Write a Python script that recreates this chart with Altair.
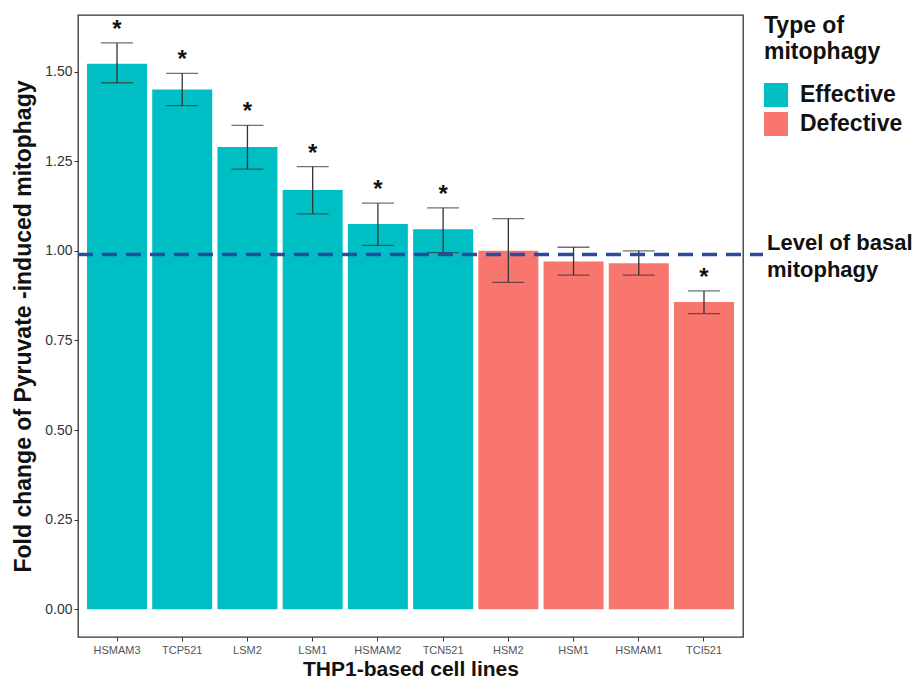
import altair as alt
import pandas as pd

cell_lines = ["HSMAM3", "TCP521", "LSM2", "LSM1", "HSMAM2", "TCN521", "HSM2", "HSM1", "HSMAM1", "TCI521"]
fold_change = [1.522, 1.45, 1.29, 1.17, 1.075, 1.06, 1.00, 0.97, 0.965, 0.857]
err_low = [1.469, 1.405, 1.228, 1.103, 1.015, 0.995, 0.912, 0.932, 0.932, 0.825]
err_high = [1.58, 1.495, 1.35, 1.235, 1.133, 1.12, 1.09, 1.01, 1.0, 0.888]
mito_type = ["Effective"] * 6 + ["Defective"] * 4
significant = [True, True, True, True, True, True, False, False, False, True]
basal_level = [0.99]
basal_label = ["Level of basal", "mitophagy"]

df = pd.DataFrame({
    "cell": cell_lines,
    "fc": fold_change,
    "lo": err_low,
    "hi": err_high,
    "type": mito_type,
    "star": ["*" if s else "" for s in significant],
})
basal_df = pd.DataFrame({"y": basal_level, "label": [basal_label]})

W, H = 665, 622
FONT = "Liberation Sans"

x_enc = alt.X("cell:N", sort=cell_lines,
              scale=alt.Scale(paddingInner=0.08, paddingOuter=0.138),
              axis=alt.Axis(title="THP1-based cell lines", labelAngle=0, labelFontSize=11,
                            labelColor="#555555", titleFontSize=21, titleFontWeight="bold",
                            titleFont=FONT, labelFont=FONT, titleColor="#111111",
                            tickColor="#333333", tickSize=4, domain=False, labelPadding=3,
                            titlePadding=3))
y_scale = alt.Scale(domain=[-0.0776, 1.658], nice=False, zero=False)

bars = alt.Chart(df).mark_bar(clip=True).encode(
    x=x_enc,
    y=alt.Y("fc:Q", scale=y_scale,
            axis=alt.Axis(title="Fold change of Pyruvate -induced mitophagy",
                          values=[0, 0.25, 0.5, 0.75, 1.0, 1.25, 1.5], format=".2f",
                          labelFontSize=14, labelColor="#333333", labelFont=FONT,
                          titleFont=FONT, titleFontSize=23, titleFontWeight="bold",
                          titleColor="#111111", tickColor="#333333", tickSize=4,
                          labelPadding=2, domain=False, grid=False, titlePadding=9)),
    y2=alt.datum(0),
    color=alt.Color("type:N", sort=["Effective", "Defective"],
                    scale=alt.Scale(domain=["Effective", "Defective"], range=["#00BFC4", "#F8766D"]),
                    legend=alt.Legend(title=["Type of", "mitophagy"], titleFontSize=23,
                                      titleFontWeight="bold", titleFont=FONT, labelFont=FONT,
                                      labelFontSize=23, labelFontWeight="bold",
                                      titleColor="#111111", labelColor="#111111",
                                      titleLineHeight=26,
                                      symbolType="square", symbolSize=576, symbolStrokeWidth=0,
                                      symbolOpacity=1, rowPadding=5, offset=21, titlePadding=19,
                                      labelOffset=12, padding=0)),
)

rules = alt.Chart(df).mark_rule(color="#333333", strokeWidth=1.3).encode(
    x=alt.X("cell:N", sort=cell_lines), y=alt.Y("lo:Q", scale=y_scale), y2="hi:Q")
caps_lo = alt.Chart(df).mark_tick(color="#333333", thickness=1.3, size=32, orient="horizontal").encode(
    x=alt.X("cell:N", sort=cell_lines), y=alt.Y("lo:Q", scale=y_scale))
caps_hi = alt.Chart(df).mark_tick(color="#333333", thickness=1.3, size=32, orient="horizontal").encode(
    x=alt.X("cell:N", sort=cell_lines), y=alt.Y("hi:Q", scale=y_scale))

stars = alt.Chart(df).mark_text(fontSize=24, fontWeight="bold", font=FONT, color="#111111",
                                baseline="middle", dy=-13).encode(
    x=alt.X("cell:N", sort=cell_lines), y=alt.Y("hi:Q", scale=y_scale), text="star:N")

basal_line = alt.Chart(basal_df).mark_rule(color="#2B4C9E", strokeWidth=3.5,
                                           strokeDash=[15, 9]).encode(
    y=alt.Y("y:Q", scale=y_scale), x=alt.value(0), x2=alt.value(W + 20))

basal_text = alt.Chart(basal_df).mark_text(fontSize=22, fontWeight="bold", font=FONT,
                                           color="#111111", align="left", baseline="middle",
                                           dy=-11, lineHeight=27).encode(
    y=alt.Y("y:Q", scale=y_scale), x=alt.value(W + 24), text="label")

chart = alt.layer(bars, rules, caps_lo, caps_hi, stars, basal_line, basal_text).properties(
    width=W, height=H,
    autosize=alt.AutoSizeParams(type="none"),
    padding={"left": 70, "top": 7, "right": 171, "bottom": 41},
).configure(background="white").configure_view(stroke="#333333", strokeWidth=1.3)

chart.save("out.html", embed_options={"renderer": "svg", "actions": False})
